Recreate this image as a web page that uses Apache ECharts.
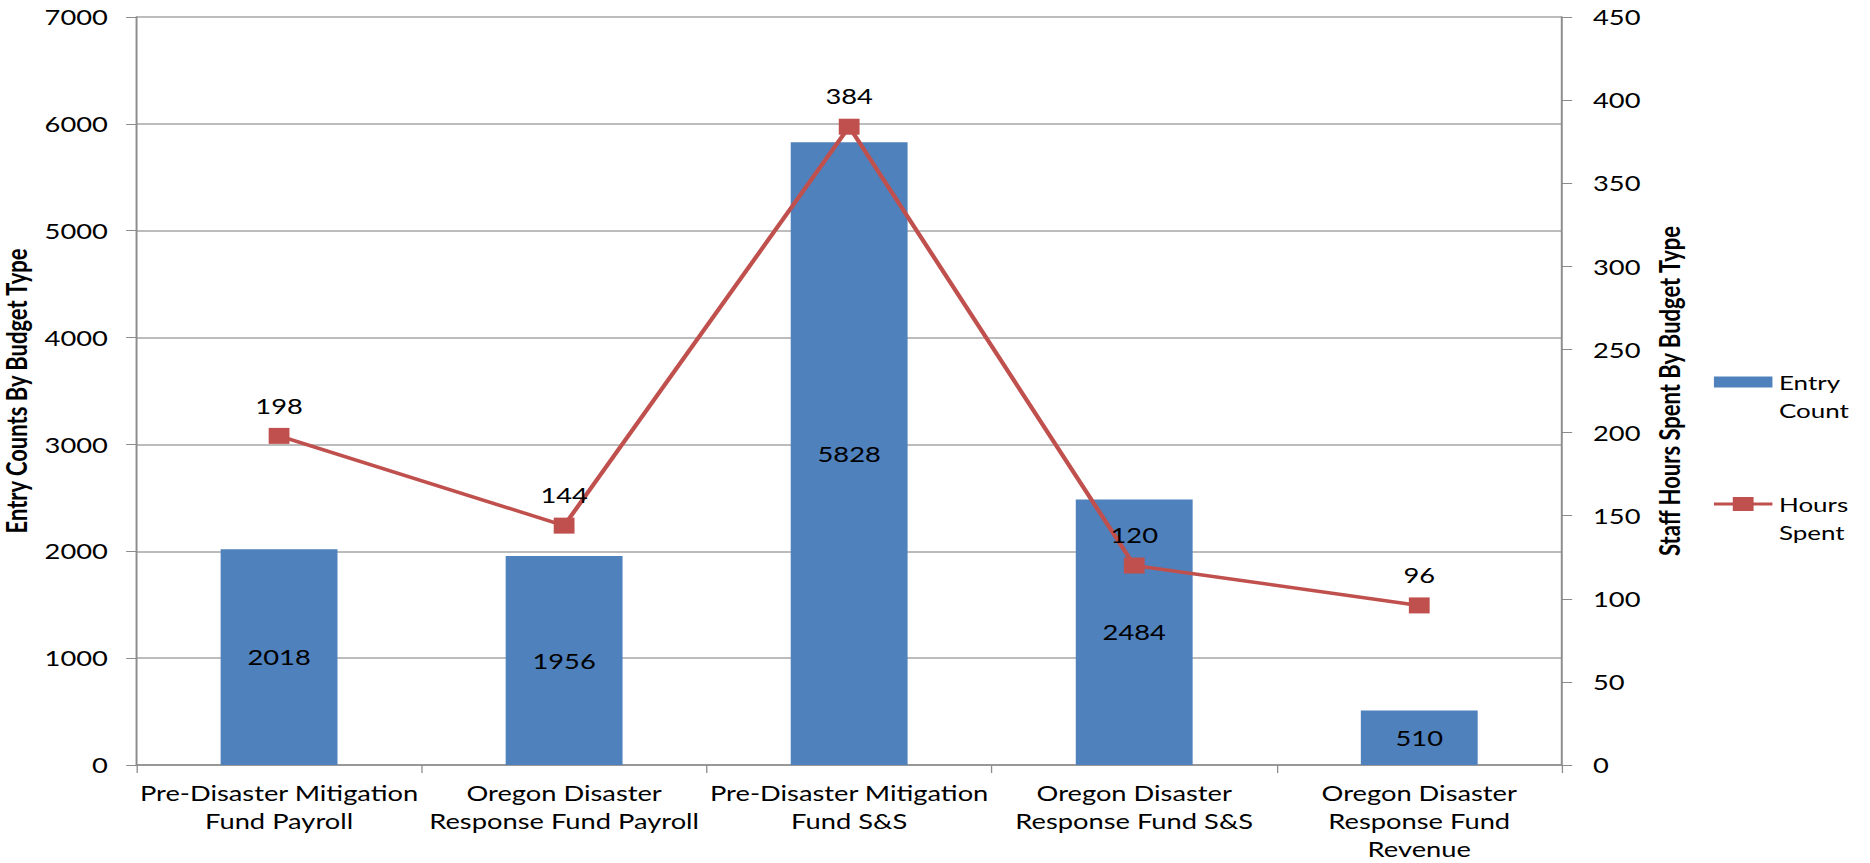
<!DOCTYPE html>
<html>
<head>
<meta charset="utf-8">
<script src="https://cdn.jsdelivr.net/npm/echarts@6/dist/echarts.min.js"></script>
<style>
html,body{margin:0;padding:0;background:#fff;overflow:hidden;}
#wrap{width:1870px;height:863px;overflow:hidden;}
#chart{width:1438px;height:863px;transform:scaleX(1.3004);transform-origin:0 0;}
</style>
</head>
<body>
<div id="wrap"><div id="chart"></div></div>
<script>
const categories = [
  'Pre-Disaster Mitigation\nFund Payroll',
  'Oregon Disaster\nResponse Fund Payroll',
  'Pre-Disaster Mitigation\nFund S&S',
  'Oregon Disaster\nResponse Fund S&S',
  'Oregon Disaster\nResponse Fund\nRevenue'
];
const entryCount = [2018, 1956, 5828, 2484, 510];
const hoursSpent = [198, 144, 384, 120, 96];
const leftTicks = {min: 0, max: 7000, interval: 1000};
const rightTicks = {min: 0, max: 450, interval: 50};

const FONT = 'Lato';
const plain = function (v) { return String(v); };
const chart = echarts.init(document.getElementById('chart'), null, {renderer: 'svg'});
chart.setOption({
  animation: false,
  textStyle: {fontFamily: FONT},
  grid: {left: 105, right: 237, top: 17, bottom: 98, containLabel: false, outerBoundsMode: 'none'},
  legend: {
    orient: 'vertical',
    left: 1318,
    top: 368,
    padding: 0,
    itemGap: 66,
    itemWidth: 45,
    itemHeight: 42,
    textStyle: {fontFamily: FONT, fontSize: 20, color: '#000', lineHeight: 28},
    formatter: function (n) { return n.replace(' ', '\n'); },
    data: [
      {name: 'Entry Count', icon: 'path://M0,0h0.01M0,1.5h45v11h-45zM0,42h0.01'},
      {name: 'Hours Spent', icon: 'path://M0,0h0.01M0,5.5h45v3h-45zM14.5,0h16v14h-16zM0,42h0.01'}
    ]
  },
  xAxis: {
    type: 'category',
    data: categories,
    axisLine: {lineStyle: {color: '#8c8c8c', width: 1.5}},
    axisTick: {show: true, length: 8, lineStyle: {color: '#8c8c8c'}},
    axisLabel: {fontFamily: FONT, fontSize: 21, color: '#000', margin: 14, lineHeight: 28, interval: 0}
  },
  yAxis: [
    {
      type: 'value',
      min: leftTicks.min, max: leftTicks.max, interval: leftTicks.interval,
      name: 'Entry Counts By Budget Type',
      nameLocation: 'middle',
      nameGap: 72,
      nameTextStyle: {fontFamily: FONT, fontWeight: 'bold', fontSize: 22, color: '#000'},
      axisLine: {show: true, lineStyle: {color: '#8c8c8c', width: 1.5}},
      axisTick: {show: true, length: 8, lineStyle: {color: '#8c8c8c'}},
      axisLabel: {fontFamily: FONT, fontSize: 21, color: '#000', margin: 22, formatter: plain},
      splitLine: {show: true, lineStyle: {color: '#a6a6a6', width: 1.5}}
    },
    {
      type: 'value',
      position: 'right',
      min: rightTicks.min, max: rightTicks.max, interval: rightTicks.interval,
      name: 'Staff Hours Spent By Budget Type',
      nameLocation: 'middle',
      nameGap: 67,
      nameRotate: 90,
      nameTextStyle: {fontFamily: FONT, fontWeight: 'bold', fontSize: 22, color: '#000'},
      axisLine: {show: true, lineStyle: {color: '#8c8c8c', width: 1.5}},
      axisTick: {show: true, length: 8, lineStyle: {color: '#8c8c8c'}},
      axisLabel: {fontFamily: FONT, fontSize: 21, color: '#000', margin: 24, formatter: plain},
      splitLine: {show: false}
    }
  ],
  series: [
    {
      name: 'Entry Count',
      type: 'bar',
      yAxisIndex: 0,
      data: entryCount,
      barWidth: '41%',
      itemStyle: {color: '#4F81BD'},
      label: {show: true, position: 'inside', fontFamily: FONT, fontSize: 21, color: '#000'}
    },
    {
      name: 'Hours Spent',
      type: 'line',
      yAxisIndex: 1,
      data: hoursSpent,
      symbol: 'rect',
      symbolSize: 16,
      itemStyle: {color: '#C0504D'},
      lineStyle: {color: '#C0504D', width: 3.5},
      label: {show: true, position: 'top', distance: 12, fontFamily: FONT, fontSize: 21, color: '#000'},
      z: 5
    }
  ]
});
</script>
</body>
</html>
